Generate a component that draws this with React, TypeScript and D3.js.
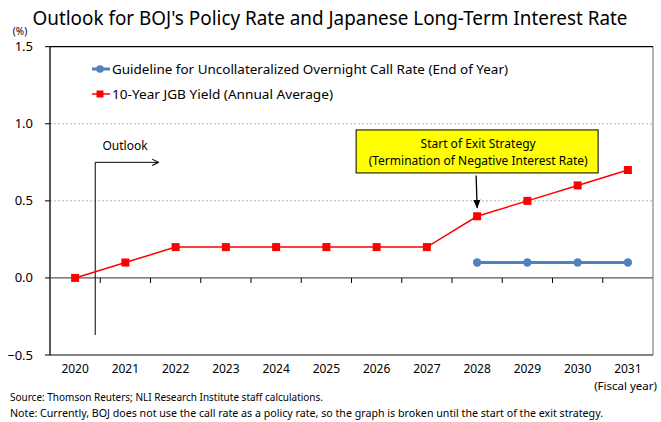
import React from 'react';
import * as d3 from 'd3';

const years = ['2020', '2021', '2022', '2023', '2024', '2025', '2026', '2027', '2028', '2029', '2030', '2031'];
const jgbYield = [0, 0.1, 0.2, 0.2, 0.2, 0.2, 0.2, 0.2, 0.4, 0.5, 0.6, 0.7];
const callRate: (number | null)[] = [null, null, null, null, null, null, null, null, 0.1, 0.1, 0.1, 0.1];
const yTicks = [-0.5, 0, 0.5, 1.0, 1.5];
const gridTicks = [0.5, 1.0];

const TITLE = "Outlook for BOJ's Policy Rate and Japanese Long-Term Interest Rate";
const CALL_LABEL = 'Guideline for Uncollateralized Overnight Call Rate (End of Year)';
const JGB_LABEL = '10-Year JGB Yield (Annual Average)';
const SOURCE = 'Source: Thomson Reuters; NLI Research Institute staff calculations.';
const NOTE = 'Note: Currently, BOJ does not use the call rate as a policy rate, so the graph is broken until the start of the exit strategy.';

const W = 661;
const H = 422;
const margin = { left: 50, right: 8, top: 46.7, bottom: 67 };
const FONT = '"Noto Sans", "Open Sans", sans-serif';
const RED = '#ff0000';
const BLUE = '#4f81bd';

export default function App() {
  const x = d3.scaleBand<string>().domain(years).range([margin.left, W - margin.right]).padding(0);
  const y = d3.scaleLinear().domain([-0.5, 1.5]).range([H - margin.bottom, margin.top]);
  const cx = (i: number) => (x(years[i]) as number) + x.bandwidth() / 2;
  const xAt = (pos: number) => cx(0) + pos * x.step();

  const redLine = d3.line<number>().x((_, i) => cx(i)).y(d => y(d))(jgbYield) as string;
  const blueLine = d3
    .line<number | null>()
    .defined(d => d !== null)
    .x((_, i) => cx(i))
    .y(d => y(d as number))(callRate) as string;

  const x0 = margin.left;
  const x1 = W - margin.right;
  const yTop = y(1.5);
  const yBot = y(-0.5);

  // annotation positions in data units
  const outlookX = xAt(0.4);
  const outlookTop = y(0.75);
  const outlookBottom = y(-0.37);
  const outlookEnd = xAt(1.66);
  const exitCenter = cx(8);

  return (
    <svg width={W} height={H} style={{ position: 'absolute', left: 0, top: 0, background: '#fff' }} fontFamily={FONT}>
      <defs>
        <marker id="open" viewBox="0 0 10 10" refX="9" refY="5" markerWidth="8" markerHeight="8" orient="auto">
          <path d="M1,1 L9,5 L1,9" fill="none" stroke="#000" strokeWidth="1.3" />
        </marker>
        <marker id="solid" viewBox="0 0 10 10" refX="9" refY="5" markerWidth="7" markerHeight="7" orient="auto">
          <path d="M0,1 L10,5 L0,9 z" fill="#000" />
        </marker>
      </defs>

      <text x={330} y={25} textAnchor="middle" fontSize={19} textLength={595} lengthAdjust="spacingAndGlyphs" fill="#000">
        {TITLE}
      </text>
      <text x={20} y={35} textAnchor="middle" fontSize={10} fill="#000">(%)</text>

      {/* grid */}
      {gridTicks.map(t => (
        <line key={t} x1={x0} x2={x1} y1={y(t)} y2={y(t)} stroke="#b3b3b3" strokeDasharray="2,2" strokeWidth={1} />
      ))}

      {/* frame */}
      <line x1={x1} x2={x1} y1={yTop} y2={yBot} stroke="#8c8c8c" strokeWidth={1.3} />
      <line x1={x0} x2={x1} y1={yBot} y2={yBot} stroke="#595959" strokeWidth={1.3} />
      <line x1={x0} x2={x1} y1={yTop} y2={yTop} stroke="#000" strokeWidth={1.3} />
      <line x1={x0} x2={x0} y1={yTop} y2={yBot} stroke="#000" strokeWidth={1.3} />

      {/* y ticks */}
      {yTicks.map(t => (
        <g key={t}>
          <line x1={x0 - 5} x2={x0} y1={y(t)} y2={y(t)} stroke="#000" />
          <text x={33} y={y(t)} dy="0.35em" textAnchor="end" fontSize={13} fill="#000">
            {d3.format('.1f')(t)}
          </text>
        </g>
      ))}

      {/* x axis at zero */}
      <line x1={x0} x2={x1} y1={y(0)} y2={y(0)} stroke="#595959" strokeWidth={1.3} />
      {years.slice(1).map(yr => (
        <line key={yr} x1={x(yr)} x2={x(yr)} y1={y(0)} y2={y(0) + 5} stroke="#000" />
      ))}
      {years.map((yr, i) => (
        <text key={yr} x={cx(i)} y={369} dy="0.35em" textAnchor="middle" fontSize={12} fill="#000">
          {yr}
        </text>
      ))}
      <text x={657} y={386} dy="0.35em" textAnchor="end" fontSize={11.5} fill="#000">(Fiscal year)</text>

      {/* outlook marker */}
      <polyline
        points={`${outlookX},${outlookBottom} ${outlookX},${outlookTop} ${outlookEnd},${outlookTop}`}
        fill="none"
        stroke="#000"
        strokeWidth={1}
        markerEnd="url(#open)"
      />
      <text x={125} y={146} dy="0.35em" textAnchor="middle" fontSize={12} fill="#000">Outlook</text>

      {/* series */}
      <path d={redLine} fill="none" stroke={RED} strokeWidth={1.5} />
      {jgbYield.map((v, i) => (
        <rect key={i} x={cx(i) - 4} y={y(v) - 4} width={8} height={8} fill={RED} />
      ))}
      <path d={blueLine} fill="none" stroke={BLUE} strokeWidth={3} />
      {callRate.map((v, i) =>
        v === null ? null : <circle key={i} cx={cx(i)} cy={y(v)} r={4.2} fill={BLUE} />
      )}

      {/* exit strategy annotation */}
      <rect x={exitCenter - 121} y={y(0.96)} width={242} height={43} fill="#ffff00" stroke="#000" strokeWidth={1} />
      <text x={exitCenter + 1} y={y(0.96) + 14} dy="0.35em" textAnchor="middle" fontSize={12} fill="#000">
        Start of Exit Strategy
      </text>
      <text x={exitCenter + 1} y={y(0.96) + 31} dy="0.35em" textAnchor="middle" fontSize={12} fill="#000">
        (Termination of Negative Interest Rate)
      </text>
      <line x1={exitCenter - 1} x2={exitCenter} y1={y(0.665)} y2={y(0.455)} stroke="#000" strokeWidth={1.3} markerEnd="url(#solid)" />

      {/* legend */}
      <line x1={92} x2={110} y1={69} y2={69} stroke={BLUE} strokeWidth={3} />
      <circle cx={100} cy={69} r={3.8} fill={BLUE} />
      <text x={112} y={69} dy="0.35em" fontSize={13} textLength={396} lengthAdjust="spacingAndGlyphs" fill="#000">
        {CALL_LABEL}
      </text>
      <line x1={92} x2={110} y1={94} y2={94} stroke={RED} strokeWidth={1.5} />
      <rect x={96.5} y={90.5} width={7} height={7} fill={RED} />
      <text x={112} y={94} dy="0.35em" fontSize={13} textLength={221} lengthAdjust="spacingAndGlyphs" fill="#000">
        {JGB_LABEL}
      </text>

      {/* footnotes */}
      <text x={10} y={397} dy="0.35em" fontSize={10.5} textLength={313} lengthAdjust="spacingAndGlyphs" fill="#000">
        {SOURCE}
      </text>
      <text x={10} y={413} dy="0.35em" fontSize={10.5} textLength={593} lengthAdjust="spacingAndGlyphs" fill="#000">
        {NOTE}
      </text>
    </svg>
  );
}
